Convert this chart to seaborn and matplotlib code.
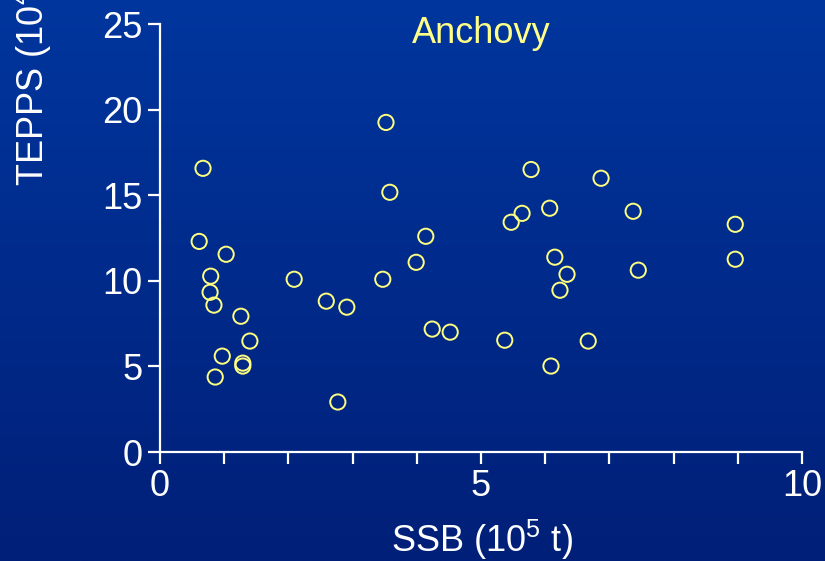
import numpy as np
import seaborn as sns
import matplotlib.pyplot as plt
from matplotlib.colors import LinearSegmentedColormap

# Anchovy: SSB (10^5 t) vs TEPPS (10^4 t)
ssb = [0.67, 0.61, 1.03, 0.79, 0.78, 0.84, 1.26, 1.40, 0.97, 1.29, 1.29, 0.86,
       2.09, 2.59, 2.91, 2.77, 3.52, 3.58, 3.47, 4.14, 3.99, 4.24, 4.52,
       5.78, 5.64, 5.47, 5.37, 6.87, 6.07, 6.15, 6.34, 6.23, 6.09, 6.67,
       7.37, 7.45, 8.96, 8.96]
tepps = [16.57, 12.3, 11.55, 10.27, 9.33, 8.58, 7.93, 6.48, 5.60, 5.19, 5.02, 4.38,
         10.09, 8.81, 8.46, 2.92, 19.25, 15.17, 10.09, 12.6, 11.08, 7.18, 7.0,
         16.5, 13.94, 13.42, 6.53, 15.99, 14.24, 11.38, 10.38, 9.45, 5.02, 6.48,
         14.06, 10.62, 13.3, 11.26]

x_ticks = list(range(0, 11))
x_labels = ['0', '', '', '', '', '5', '', '', '', '', '10']
y_ticks = [0, 5, 10, 15, 20, 25]

sns.set_style('ticks')
plt.rcParams['font.family'] = ['Liberation Sans', 'DejaVu Sans']
plt.rcParams['mathtext.default'] = 'regular'

W, H = 825, 561
fig = plt.figure(figsize=(W / 100, H / 100), dpi=100)

# blue gradient background
bg = fig.add_axes([0, 0, 1, 1], zorder=-10)
cmap = LinearSegmentedColormap.from_list('bg', ['#00369e', '#001f78'])
bg.imshow(np.linspace(0, 1, 256).reshape(-1, 1), aspect='auto', cmap=cmap,
          extent=[0, 1, 0, 1])
bg.axis('off')

ax = fig.add_axes([160 / W, 1 - 452 / H, (802 - 160) / W, (452 - 24) / H])
ax.patch.set_alpha(0)

yellow = '#ffff80'
sns.scatterplot(x=ssb, y=tepps, ax=ax, s=120, marker='o',
                facecolor='none', edgecolor=yellow, linewidth=1.4)

ax.set_xlim(0, 10)
ax.set_ylim(0, 25)
ax.set_xticks(x_ticks)
ax.set_xticklabels(x_labels)
ax.set_yticks(y_ticks)
sns.despine(ax=ax)
for side in ['left', 'bottom']:
    ax.spines[side].set_color('white')
    ax.spines[side].set_linewidth(1.6)
ax.tick_params(colors='white', labelsize=26, length=8.5, width=1.6, pad=4)

ax.text(5, 23.9, 'Anchovy', color='#ffff88', fontsize=26,
        ha='center', va='baseline')

fig.text(482 / W, 1 - 552 / H, 'SSB (10$^5$ t)', color='white', fontsize=26,
         ha='center', va='baseline')
fig.text(32 / W, 1 - 186 / H, 'TEPPS (10$^4$ t)', color='white', fontsize=26,
         rotation=90, ha='center', va='bottom')

fig.savefig('out.png', dpi=100)
